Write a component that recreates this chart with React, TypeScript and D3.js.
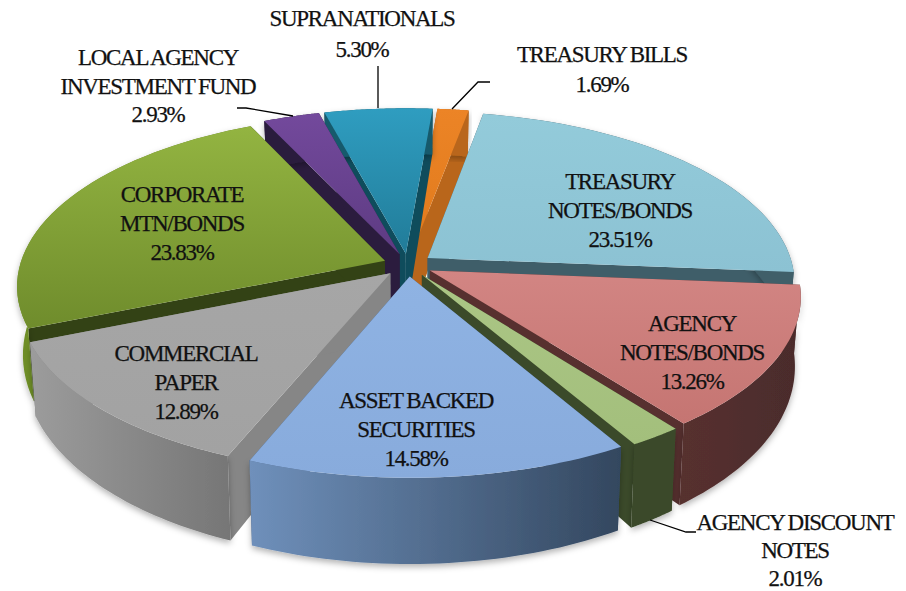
import React from "react";
import * as d3 from "d3";

const categories = ["TREASURY BILLS", "TREASURY NOTES/BONDS", "AGENCY NOTES/BONDS", "AGENCY DISCOUNT NOTES", "ASSET BACKED SECURITIES", "COMMERCIAL PAPER", "CORPORATE MTN/BONDS", "LOCAL AGENCY INVESTMENT FUND", "SUPRANATIONALS"];
const shares = [1.69, 23.51, 13.26, 2.01, 14.58, 12.89, 23.83, 2.93, 5.3];
const topLight = ["#ec8426", "#93cbda", "#d28583", "#abc685", "#8fb3e3", "#a6a6a6", "#93b441", "#73499c", "#2f9dc0"];
const topDark = ["#e07a1c", "#8cc2d3", "#c57572", "#a3bf7c", "#88abdc", "#a2a2a2", "#6f8c2c", "#5d3b82", "#217c99"];
const wallLeft = ["#b9661b", "#3f5e69", "#57302f", "#3b4a2a", "#6f90bb", "#9c9c9c", "#6f8f27", "#2b1c3e", "#125a6c"];
const wallRight = ["#b9661b", "#3f5e69", "#4a2c2c", "#3b4a2a", "#33475f", "#767676", "#5f7a20", "#2b1c3e", "#125a6c"];
const cutColors = ["#b9661b", "#3f5e69", "#57302f", "#3b4a2a", "#3f5675", "#868686", "#334215", "#2b1c3e", "#0f4c5c"];
const paintOrder = [0, 8, 7, 1, 6, 2, 5, 3, 4];
const labelLines = [
  ["TREASURY BILLS", "1.69%"],
  ["TREASURY", "NOTES/BONDS", "23.51%"],
  ["AGENCY", "NOTES/BONDS", "13.26%"],
  ["AGENCY DISCOUNT", "NOTES", "2.01%"],
  ["ASSET BACKED", "SECURITIES", "14.58%"],
  ["COMMERCIAL", "PAPER", "12.89%"],
  ["CORPORATE", "MTN/BONDS", "23.83%"],
  ["LOCAL AGENCY", "INVESTMENT FUND", "2.93%"],
  ["SUPRANATIONALS", "5.30%"],
];

const W = 906, H = 591;
const CX = 408, CY = 265, RX = 365, RY = 169, PERSP = 0.142, EXPLODE = 0.068;
const START_DEG = 3;
const labelX = [602, 620, 692, 795, 416, 186, 182, 158, 362];
const labelY = [62, 189, 331, 530, 408, 361, 202, 65, 26];
const labelStep = [30, 29, 29, 28, 29, 29, 29, 28.5, 31];
const leaders: [number, number][][] = [
  [[452, 109], [478, 82], [490, 82]],
  [[378, 108], [378, 66]],
  [[293, 116], [246, 108], [237, 108]],
  [[650, 520], [686, 532], [696, 532]],
];

// The source picture's drawn angles differ slightly from the proportional ones.
const warp = d3.scaleLinear()
  .domain([3, 9, 94, 148, 201, 247, 333, 344, 363])
  .range([1.8, 1.4, 1, 1.2, 1, 0, 1.5, 1.2, 1.8]);
const rad = (deg: number) => (deg * Math.PI) / 180;
const drawn = (t: number) => {
  const d = (t * 180) / Math.PI;
  return rad(d + warp(d));
};

type P = [number, number];
const top = (u: number, v: number): P => {
  const w = 1 - PERSP * v;
  return [CX + (RX * u) / w, CY + (RY * v) / w];
};
const bottom = (u: number, v: number): P => {
  const [x, y] = top(u, v);
  return [CX + (x - CX) * 0.985, y + 66 + 19 * v];
};
const path = d3.line<P>().curve(d3.curveLinear);

export default function App() {
  const arcs = d3.pie<number>().sort(null).startAngle(rad(START_DEG)).endAngle(rad(START_DEG + 360))(shares);
  const slices = arcs.map((a, i) => {
    const a0 = drawn(a.startAngle), a1 = drawn(a.endAngle);
    const mid = (a0 + a1) / 2;
    const ou = EXPLODE * Math.sin(mid), ov = -EXPLODE * Math.cos(mid);
    const pt = (f: (u: number, v: number) => P, t: number, r: number) =>
      f(ou + r * Math.sin(t), ov - r * Math.cos(t));
    const angles = d3.range(0, 41).map((k) => a0 + ((a1 - a0) * k) / 40);
    const topArc = angles.map((t) => pt(top, t, 1));
    const botArc = angles.map((t) => pt(bottom, t, 1));
    const apexT = pt(top, mid, 0), apexB = pt(bottom, mid, 0);
    return {
      i,
      topFace: path([apexT, ...topArc])! + "Z",
      wall: path([...topArc, ...[...botArc].reverse()])! + "Z",
      cutA: path([apexT, topArc[0], botArc[0], apexB])! + "Z",
      cutB: path([apexT, topArc[40], botArc[40], apexB])! + "Z",
    };
  });

  return (
    <svg width={W} height={H} viewBox={`0 0 ${W} ${H}`} style={{ position: "absolute", left: 0, top: 0, background: "#fff" }}>
      <defs>
        <filter id="soft" x="-10%" y="-10%" width="120%" height="120%">
          <feDropShadow dx="0" dy="3" stdDeviation="3" floodColor="#000" floodOpacity="0.3" />
        </filter>
        {categories.map((_, i) => (
          <React.Fragment key={i}>
            <linearGradient id={`t${i}`} x1="0" y1="0" x2="0" y2="1">
              <stop offset="0" stopColor={topLight[i]} />
              <stop offset="1" stopColor={topDark[i]} />
            </linearGradient>
            <linearGradient id={`w${i}`} x1="0" y1="0" x2="1" y2="0">
              <stop offset="0" stopColor={wallLeft[i]} />
              <stop offset="1" stopColor={wallRight[i]} />
            </linearGradient>
          </React.Fragment>
        ))}
      </defs>
      {paintOrder.map((idx) => {
        const s = slices[idx];
        return (
          <g key={idx}>
            <path d={s.cutA} fill={cutColors[idx]} />
            <path d={s.cutB} fill={cutColors[idx]} />
            <g filter="url(#soft)">
              <path d={s.wall} fill={`url(#w${idx})`} />
            </g>
            <path d={s.topFace} fill={`url(#t${idx})`} />
          </g>
        );
      })}
      {leaders.map((l, i) => (
        <path key={i} d={path(l as P[])!} fill="none" stroke="#000" strokeWidth={1.3} />
      ))}
      {labelLines.map((lines, i) => (
        <text key={i} textAnchor="middle" fontFamily="'Liberation Serif', serif" fontSize={23} letterSpacing={-1.3} wordSpacing={-0.5} fill="#111" stroke="#111" strokeWidth={0.25}>
          {lines.map((t, j) => (
            <tspan key={j} x={labelX[i]} y={labelY[i] + j * labelStep[i]}>{t}</tspan>
          ))}
        </text>
      ))}
    </svg>
  );
}
